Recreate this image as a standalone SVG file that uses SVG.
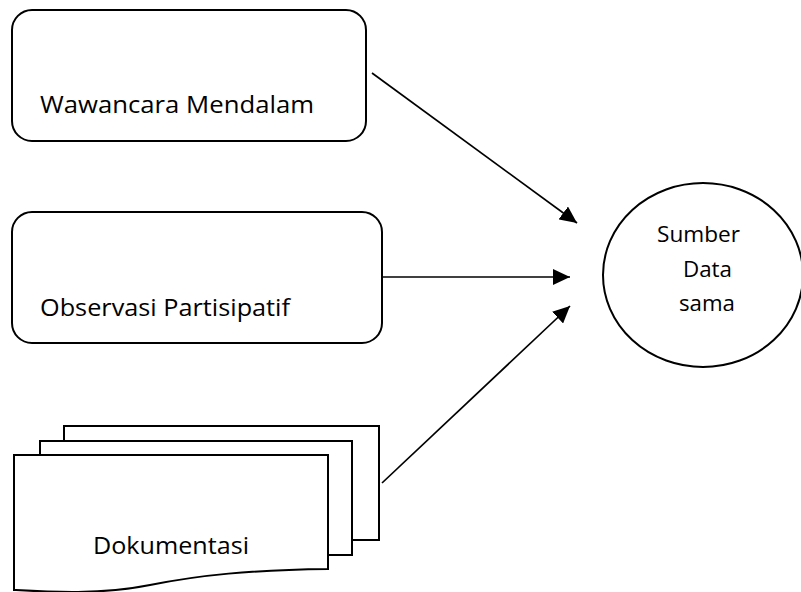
<svg xmlns="http://www.w3.org/2000/svg" width="801" height="592" viewBox="0 0 801 592">
<style>
.shape{fill:#fff;stroke:#000;stroke-width:2}
.conn{fill:none;stroke:#000;stroke-width:1.7}
.lbl{font-family:"Open Sans","Liberation Sans",sans-serif;fill:#000}
.big{font-size:24px}
.small{font-size:22px}
</style>
<defs>
<marker id="ah" markerUnits="userSpaceOnUse" markerWidth="18" markerHeight="16" refX="17" refY="8" orient="auto">
<path d="M0,0 L17,8 L0,16 Z" fill="#000"/>
</marker>
</defs>
<rect width="801" height="592" fill="#fff"/>
<g id="wawancara">
<rect class="shape" x="12" y="10" width="354" height="131" rx="20" ry="20"/>
<text class="lbl big" x="40" y="113" textLength="274" lengthAdjust="spacingAndGlyphs">Wawancara Mendalam</text>
</g>
<g id="observasi">
<rect class="shape" x="12" y="212" width="370" height="131" rx="20" ry="20"/>
<text class="lbl big" x="40" y="316" textLength="250" lengthAdjust="spacingAndGlyphs">Observasi Partisipatif</text>
</g>
<g id="dokumentasi">
<rect class="shape" x="64" y="426" width="315" height="114"/>
<rect class="shape" x="40" y="441" width="312" height="114"/>
<path class="shape" d="M14,455 L328,455 L328,569 C250,570 200,575 150,585 C100,595 50,592 14,590 Z"/>
<text class="lbl big" x="93" y="554" textLength="156" lengthAdjust="spacingAndGlyphs">Dokumentasi</text>
</g>
<g id="sumber">
<ellipse class="shape" cx="703" cy="275" rx="100" ry="92"/>
<text class="lbl small" x="657" y="242" textLength="83" lengthAdjust="spacingAndGlyphs">Sumber</text>
<text class="lbl small" x="683" y="277" textLength="49" lengthAdjust="spacingAndGlyphs">Data</text>
<text class="lbl small" x="679" y="311" textLength="56" lengthAdjust="spacingAndGlyphs">sama</text>
</g>
<g id="connectors">
<line class="conn" x1="372" y1="73" x2="577" y2="223" marker-end="url(#ah)"/>
<line class="conn" x1="382" y1="277" x2="570" y2="277" marker-end="url(#ah)"/>
<line class="conn" x1="382" y1="483" x2="570" y2="306" marker-end="url(#ah)"/>
</g>
</svg>
